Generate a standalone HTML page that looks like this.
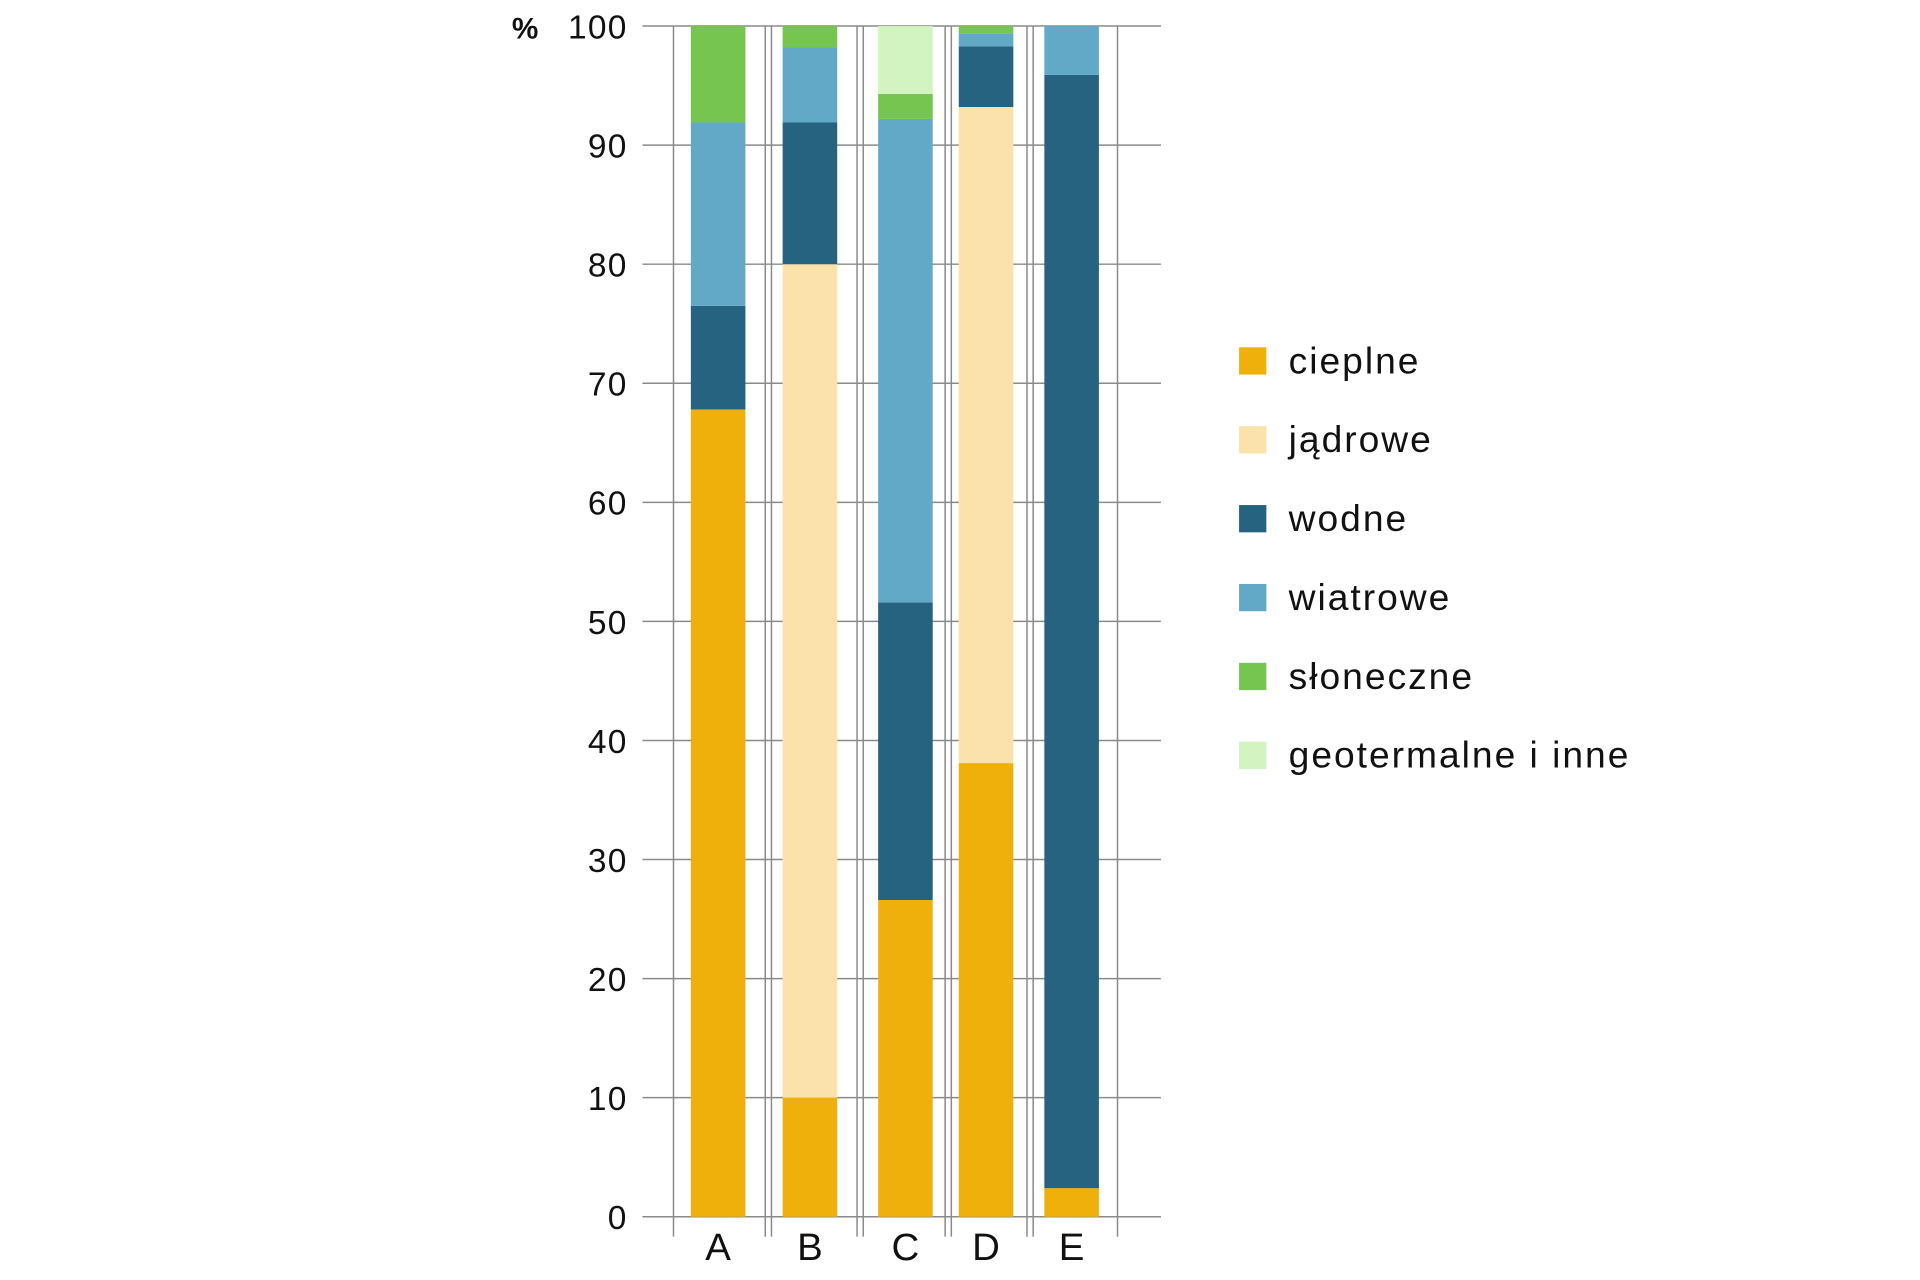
<!DOCTYPE html>
<html><head><meta charset="utf-8"><style>
html,body{margin:0;padding:0;background:#fff}
svg{display:block;font-family:"Liberation Sans","DejaVu Sans",sans-serif}
</style></head><body>
<svg id="chart" width="1920" height="1280" viewBox="0 0 1548 1032" xmlns="http://www.w3.org/2000/svg">
<g id="grid"></g><g id="bars"></g><g id="axes"></g><g id="legend"></g>
</svg>
<script>
const categories = ["A","B","C","D","E"];
const seriesNames = ["cieplne","jądrowe","wodne","wiatrowe","słoneczne","geotermalne i inne"];
const cieplne    = [67.8, 10.0, 26.6, 38.1, 2.4];
const jadrowe    = [0,    70.0, 0,    55.1, 0];
const wodne      = [8.7,  11.9, 25.0, 5.1,  93.5];
const wiatrowe   = [15.4, 6.3,  40.6, 1.1,  4.1];
const sloneczne  = [8.1,  1.8,  2.1,  0.6,  0];
const geotermalne= [0,    0,    5.7,  0,    0];
const yTicks = [0,10,20,30,40,50,60,70,80,90,100];

const series = [cieplne, jadrowe, wodne, wiatrowe, sloneczne, geotermalne];
const colors = ["#f0b00c","#fbe2aa","#266380","#62a9c7","#76c550","#d2f4c0"];
const NS = "http://www.w3.org/2000/svg";
const y0 = 981, y100 = 21;
function yScale(v){ return y0 - (y0 - y100) * v / 100; }
const barLeft = [557, 631, 708, 773, 842];
const barW = 44;
function xScale(i){ return barLeft[i]; }
function mk(tag, attrs, parent){ const e=document.createElementNS(NS,tag); for(const k in attrs) e.setAttribute(k,attrs[k]); parent.appendChild(e); return e; }

const grid = document.getElementById('grid');
yTicks.forEach(t=>{
  const l = mk('line',{x1:518,x2:936,y1:yScale(t),y2:yScale(t),stroke:'#8a8a8a','stroke-width':1.2},grid);
  
  
  const tx = mk('text',{x:506,y:yScale(t)+10,'text-anchor':'end','font-size':27,'letter-spacing':1,fill:'#111'},grid);
  tx.textContent = t;
  
  
});
[543,617,622,691,696,762,767,828,833,901].forEach((x,i)=>{
  const l = mk('line',{x1:x,x2:x,y1:21,y2:997,stroke:'#8a8a8a','stroke-width':1.2},grid);
  
  
});
const pct = mk('text',{x:434,y:31,'text-anchor':'end','font-size':24,'font-weight':'bold',fill:'#111'},grid);
pct.textContent='%';



const bars = document.getElementById('bars');
categories.forEach((c,i)=>{
  let acc = 0;
  series.forEach((s,k)=>{
    const v = s[i];
    if(v>0){
      const r = mk('rect',{x:xScale(i),y:yScale(acc+v),width:barW,height:yScale(acc)-yScale(acc+v),fill:colors[k]},bars);
      
      
    }
    acc += v;
  });
  const t = mk('text',{x:xScale(i)+barW/2,y:1016,'text-anchor':'middle','font-size':31,fill:'#111'},bars);
  t.textContent = c;
  
  
});

const legend = document.getElementById('legend');
seriesNames.forEach((n,k)=>{
  const y = 280 + k*63.6;
  const r = mk('rect',{x:999,y:y,width:22,height:22,fill:colors[k]},legend);
  
  
  const t = mk('text',{x:1039,y:y+21,'font-size':30,'letter-spacing':1.6,fill:'#111'},legend);
  t.textContent = n;
  
  
});
</script>
</body></html>
